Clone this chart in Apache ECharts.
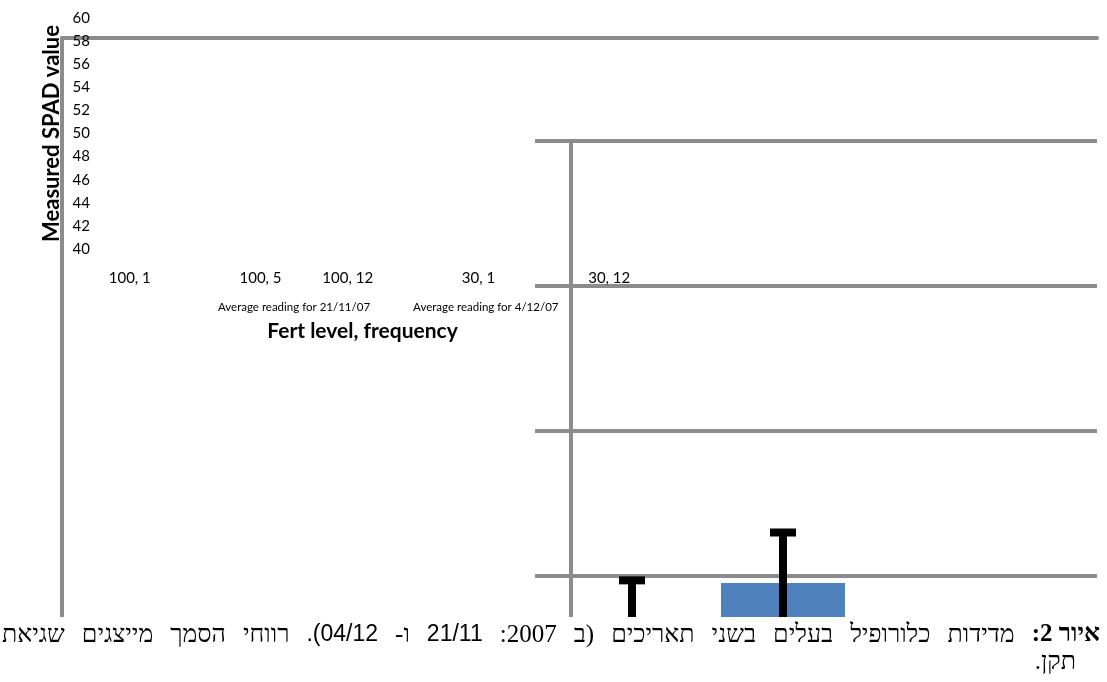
<!DOCTYPE html>
<html>
<head>
<meta charset="utf-8">
<script src="https://cdn.jsdelivr.net/npm/echarts@6/dist/echarts.min.js"></script>
<style>
html, body { margin: 0; padding: 0; background: #fff; }
#main { width: 1107px; height: 682px; }
</style>
</head>
<body>
<div id="main"></div>
<script>
// data
var categories = ['100, 1', '100, 5', '100, 12', '30, 1', '30, 12'];
var seriesNames = ['Average reading for 21/11/07', 'Average reading for 4/12/07'];
var reading2111 = [43.3, 44.76, null, null, null];
var error2111 = [1.55, 1.74, null, null, null];
var reading0412 = [null, null, null, null, null];
var captionLead = 'איור 2:';
var captionRest = 'מדידות כלורופיל בעלים בשני תאריכים (ב 2007: 21/11 ו- 04/12). רווחי הסמך מייצגים שגיאת';
var captionEnd = 'תקן.';

// the category labels of the first frame sit on an uneven 12 slot row
var labelSlots = [0, 3, 5, 8, 11];
var slotLabels = [];
for (var i = 0; i < 12; i++) slotLabels.push('');
labelSlots.forEach(function(s, k) { slotLabels[s] = categories[k]; });

var errData = [];
reading2111.forEach(function(v, k) {
	if (v == null) return;
	errData.push([k, v + error2111[k], v - error2111[k]]);
});

// caption: right to left, justified over the full line like the word processor did
var RLE = '\u202B', PDF = '\u202C';
var capSize = 25, numSize = 23;
var ctx = document.createElement('canvas').getContext('2d');
function measure(text, font) { ctx.font = font; return ctx.measureText(text).width; }
function isNum(w) { return /\d\d\/\d\d/.test(w); }
var words = captionRest.split(' ');
var used = measure(captionLead, 'bold ' + capSize + 'px "Liberation Serif"');
words.forEach(function(w) {
	used += isNum(w) ? measure(w, numSize + 'px "Liberation Sans"') : measure(w, capSize + 'px "Liberation Serif"');
});
var wordGap = (1098 - used) / words.length;
var captionRich = '';
for (var j = words.length - 1; j >= 0; j--) {
	captionRich += '{' + (isNum(words[j]) ? 'd' : 'n') + '|' + RLE + words[j] + PDF + '}{s| }';
}
captionRich += '{b|' + RLE + captionLead + PDF + '}';

var gray = '#8c8c8c';
var latin = 'Lato';

var chart = echarts.init(document.getElementById('main'));
chart.setOption({
	animation: false,
	backgroundColor: '#fff',
	legend: {
		data: seriesNames,
		left: 208,
		top: 296,
		icon: 'none',
		itemWidth: 0,
		itemHeight: 0,
		itemGap: 38,
		selectedMode: false,
		textStyle: { fontFamily: latin, fontSize: 11.5, color: '#000' }
	},
	grid: [
		{ left: 62, top: 38, right: 10, height: 620, outerBoundsMode: 'none' },
		{ left: 108, top: 18, width: 523, height: 231, outerBoundsMode: 'none' },
		{ left: 571, top: 141, right: 10, height: 580, outerBoundsMode: 'none' },
		{ left: 556.5, top: 141, width: 755, height: 580, outerBoundsMode: 'none' }
	],
	xAxis: [
		{
			gridIndex: 0, type: 'value', position: 'top', min: 0, max: 1,
			axisLine: { show: true, onZero: false, lineStyle: { color: gray, width: 4 } },
			axisTick: { show: false }, axisLabel: { show: false }, splitLine: { show: false }
		},
		{
			gridIndex: 1, type: 'category', data: slotLabels,
			axisLine: { show: false }, axisTick: { show: false },
			axisLabel: { interval: 0, margin: 22, fontFamily: latin, fontSize: 15, color: '#000' },
			name: 'Fert level, frequency', nameLocation: 'middle', nameGap: 72,
			nameTextStyle: { fontFamily: latin, fontSize: 21, fontWeight: 'bold', color: '#000', padding: [0, 14, 0, 0] }
		},
		{
			gridIndex: 2, type: 'value', min: 0, max: 1, show: false
		},
		{
			gridIndex: 3, type: 'category', data: categories, show: false
		}
	],
	yAxis: [
		{
			gridIndex: 0, type: 'value', min: 0, max: 1,
			axisLine: { show: true, onZero: false, lineStyle: { color: gray, width: 4 } },
			axisTick: { show: false }, axisLabel: { show: false }, splitLine: { show: false }
		},
		{
			gridIndex: 1, type: 'value', min: 40, max: 60, interval: 2,
			axisLine: { show: false }, axisTick: { show: false }, splitLine: { show: false },
			axisLabel: { margin: 18, fontFamily: latin, fontSize: 15, color: '#000' },
			name: 'Measured SPAD value', nameLocation: 'middle', nameGap: 45, nameRotate: 90,
			nameTextStyle: { fontFamily: latin, fontSize: 22, fontWeight: 'bold', color: '#000' }
		},
		{
			gridIndex: 2, type: 'value', min: 40, max: 60, interval: 5,
			axisLine: { show: true, lineStyle: { color: gray, width: 4 } },
			axisTick: { show: true, length: 36, lineStyle: { color: gray, width: 4 } },
			axisLabel: { show: false },
			splitLine: { show: true, lineStyle: { color: gray, width: 4 } }
		},
		{
			gridIndex: 3, type: 'value', min: 40, max: 60, show: false
		}
	],
	series: [
		{
			name: seriesNames[0], type: 'bar', xAxisIndex: 3, yAxisIndex: 3,
			data: reading2111, barWidth: 124, barGap: '-100%',
			itemStyle: { color: '#4f81bd' }
		},
		{
			name: seriesNames[1], type: 'bar', xAxisIndex: 3, yAxisIndex: 3,
			data: reading0412, barWidth: 124, barGap: '-100%',
			itemStyle: { color: '#c0504d' }
		},
		{
			type: 'custom', xAxisIndex: 3, yAxisIndex: 3, z: 5,
			data: errData,
			encode: { x: 0, y: [1, 2] },
			renderItem: function(params, api) {
				var top = api.coord([api.value(0), api.value(1)]);
				var bottom = api.coord([api.value(0), api.value(2)]);
				return {
					type: 'group',
					children: [
						{ type: 'rect', shape: { x: top[0] - 4, y: top[1], width: 8, height: bottom[1] - top[1] }, style: { fill: '#000' } },
						{ type: 'rect', shape: { x: top[0] - 13, y: top[1] - 4, width: 26, height: 8 }, style: { fill: '#000' } }
					]
				};
			}
		}
	],
	graphic: {
		elements: [
			{ type: 'rect', z: 100, shape: { x: 0, y: 617, width: 1107, height: 65 }, style: { fill: '#fff' } },
			{
				type: 'text', z: 101, x: 1100, y: 635,
				style: {
					text: captionRich,
					align: 'right', verticalAlign: 'middle',
					rich: {
						n: { fontFamily: 'Liberation Serif', fontSize: capSize, fill: '#000' },
						d: { fontFamily: 'Liberation Sans', fontSize: numSize, fill: '#000' },
						b: { fontFamily: 'Liberation Serif', fontSize: capSize, fontWeight: 'bold', fill: '#000' },
						s: { fontFamily: 'Liberation Serif', fontSize: capSize, width: wordGap }
					}
				}
			},
			{
				type: 'text', z: 101, x: 1076, y: 662,
				style: {
					text: RLE + captionEnd + PDF,
					align: 'right', verticalAlign: 'middle',
					fontFamily: 'Liberation Serif', fontSize: capSize, fill: '#000'
				}
			}
		]
	}
});
</script>
</body>
</html>
